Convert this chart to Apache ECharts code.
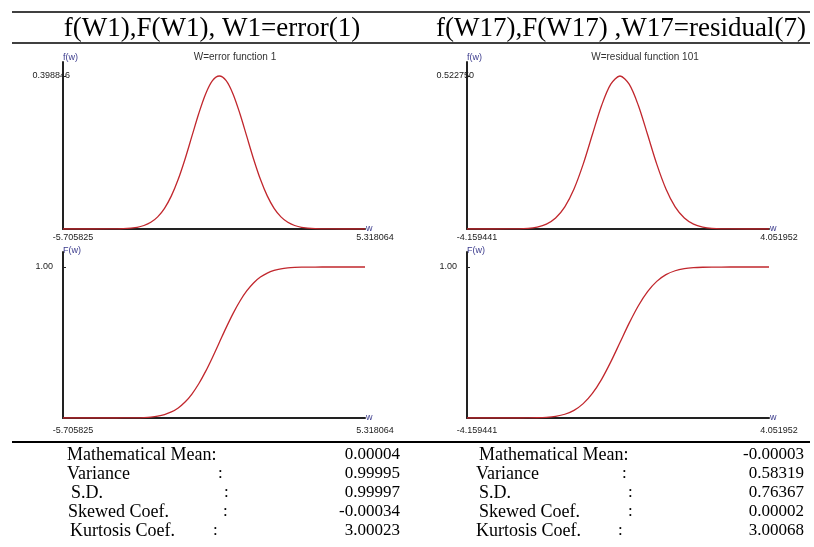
<!DOCTYPE html>
<html>
<head>
<meta charset="utf-8">
<title>f(W1), F(W1) / f(W17), F(W17)</title>
<script src="https://cdn.jsdelivr.net/npm/echarts@6/dist/echarts.min.js"></script>
<style>
html,body{margin:0;padding:0;background:#fff;}
#main{width:814px;height:547px;}
</style>
</head>
<body>
<div id="main"></div>
<script>
// W1 = error(1)  : density f(w) and distribution F(w)
var w1X   = [-5.705825, -4, -3.5, -3, -2.75, -2.5, -2.25, -2, -1.75, -1.5, -1.25, -1, -0.75, -0.5, -0.25, 0, 0.25, 0.5, 0.75, 1, 1.25, 1.5, 1.75, 2, 2.25, 2.5, 2.75, 3, 3.5, 4, 5.318064];
var w1Pdf = [0, 0.0001, 0.0009, 0.0044, 0.0091, 0.0175, 0.0317, 0.0540, 0.0863, 0.1295, 0.1826, 0.2420, 0.3011, 0.3521, 0.3867, 0.3988, 0.3867, 0.3521, 0.3011, 0.2420, 0.1826, 0.1295, 0.0863, 0.0540, 0.0317, 0.0175, 0.0091, 0.0044, 0.0009, 0.0001, 0];
var w1Cdf = [0, 0, 0.0002, 0.0013, 0.0030, 0.0062, 0.0122, 0.0228, 0.0401, 0.0668, 0.1056, 0.1587, 0.2266, 0.3085, 0.4013, 0.5, 0.5987, 0.6915, 0.7734, 0.8413, 0.8944, 0.9332, 0.9599, 0.9772, 0.9878, 0.9938, 0.9970, 0.9987, 0.9998, 1, 1];

// W17 = residual(7)
var w17X   = [-4.159441, -3, -2.5, -2.25, -2, -1.75, -1.5, -1.25, -1, -0.75, -0.5, -0.25, 0, 0.25, 0.5, 0.75, 1, 1.25, 1.5, 1.75, 2, 2.25, 2.5, 3, 4.051952];
var w17Pdf = [0, 0.0002, 0.0024, 0.0068, 0.0169, 0.0378, 0.0758, 0.1368, 0.2216, 0.3228, 0.4220, 0.4947, 0.5227, 0.4947, 0.4220, 0.3228, 0.2216, 0.1368, 0.0758, 0.0378, 0.0169, 0.0068, 0.0024, 0.0002, 0];
var w17Cdf = [0, 0, 0.0005, 0.0016, 0.0044, 0.0110, 0.0248, 0.0508, 0.0952, 0.1630, 0.2563, 0.3717, 0.5, 0.6283, 0.7437, 0.8370, 0.9048, 0.9492, 0.9752, 0.9890, 0.9956, 0.9984, 0.9995, 1, 1];

// tick labels
var w1XTicks  = [-5.705825, 5.318064];
var w17XTicks = [-4.159441, 4.051952];
var w1PdfTick  = [0.398846];
var w17PdfTick = [0.52275];
var cdfTick    = [1];

// statistics table
var statNames = ['Mathematical Mean:', 'Variance', 'S.D.', 'Skewed Coef.', 'Kurtosis Coef.'];
var w1Stats   = ['0.00004', '0.99995', '0.99997', '-0.00034', '3.00023'];
var w17Stats  = ['-0.00003', '0.58319', '0.76367', '0.00002', '3.00068'];

var titles = ['f(W1),F(W1), W1=error(1)', 'f(W17),F(W17) ,W17=residual(7)'];
var subTitles = ['W=error function 1', 'W=residual function 101'];

var chart = echarts.init(document.getElementById('main'));

var axisName = '#3a3a8c';
var red = '#c1272d';
var smallFont = 'Liberation Sans';

function zip(xs, ys) {
    var out = [];
    for (var i = 0; i < xs.length; i++) out.push([xs[i], ys[i]]);
    return out;
}

function makeX(idx, ticks, margin) {
    return {
        type: 'value', gridIndex: idx,
        min: ticks[0], max: ticks[1],
        name: 'w', nameLocation: 'end', nameGap: 1, nameMoveOverlap: false,
        nameTextStyle: {color: axisName, fontSize: 9, fontFamily: smallFont, padding: [0, 0, 10, 0]},
        axisLine: {onZero: false, lineStyle: {color: '#222', width: 2}},
        axisTick: {show: false},
        splitLine: {show: false},
        axisLabel: {
            customValues: ticks, margin: margin,
            color: '#222', fontSize: 9, fontFamily: smallFont,
            padding: [0, 0, 0, 20],
            formatter: function (v) { return v.toFixed(6); }
        }
    };
}

function makeY(idx, max, ticks, digits, margin, name, gap) {
    return {
        type: 'value', gridIndex: idx,
        min: 0, max: max,
        name: name, nameLocation: 'end', nameGap: gap, nameMoveOverlap: false,
        nameTextStyle: {color: axisName, fontSize: 9, fontFamily: smallFont, align: 'left'},
        axisLine: {show: true, onZero: false, lineStyle: {color: '#222', width: 2}},
        axisTick: {show: true, customValues: ticks, length: 3, inside: true, lineStyle: {color: '#222'}},
        splitLine: {show: false},
        axisLabel: {
            customValues: ticks, margin: margin,
            color: '#222', fontSize: 9, fontFamily: smallFont,
            formatter: function (v) { return v.toFixed(digits); }
        }
    };
}

function curve(idx, data) {
    return {
        type: 'line', xAxisIndex: idx, yAxisIndex: idx,
        data: data, showSymbol: false, smooth: 0.3,
        lineStyle: {color: red, width: 1.3},
        silent: true, animation: false
    };
}

var graphics = [
    {type: 'line', shape: {x1: 12, y1: 12, x2: 810, y2: 12}, style: {stroke: '#000', lineWidth: 1.5}},
    {type: 'line', shape: {x1: 12, y1: 43, x2: 810, y2: 43}, style: {stroke: '#000', lineWidth: 1.5}},
    {type: 'line', shape: {x1: 12, y1: 442, x2: 810, y2: 442}, style: {stroke: '#000', lineWidth: 2}}
];

var titleX = [212, 621];
var subX = [235, 645];
titles.forEach(function (t, i) {
    graphics.push({type: 'text', x: titleX[i], y: 29,
        style: {text: t, font: '27px "Liberation Serif"', fill: '#000', align: 'center', verticalAlign: 'middle'}});
    graphics.push({type: 'text', x: subX[i], y: 57,
        style: {text: subTitles[i], font: '10px "Liberation Sans"', fill: '#333', align: 'center', verticalAlign: 'middle'}});
});

// table layout
var rowY = [455, 474, 493, 512, 531];
var labelX = [[67, 67, 71, 68, 70], [479, 476, 479, 479, 476]];
var colonX = [[0, 218, 224, 223, 213], [0, 622, 628, 628, 618]];
var valueX = [400, 804];
[w1Stats, w17Stats].forEach(function (vals, c) {
    statNames.forEach(function (n, r) {
        graphics.push({type: 'text', x: labelX[c][r], y: rowY[r],
            style: {text: n, font: '18px "Liberation Serif"', fill: '#000', align: 'left', verticalAlign: 'middle'}});
        if (r > 0) {
            graphics.push({type: 'text', x: colonX[c][r], y: rowY[r],
                style: {text: ':', font: '17px "Liberation Serif"', fill: '#000', align: 'left', verticalAlign: 'middle'}});
        }
        graphics.push({type: 'text', x: valueX[c], y: rowY[r],
            style: {text: vals[r], font: '17px "Liberation Serif"', fill: '#000', align: 'right', verticalAlign: 'middle'}});
    });
});

var option = {
    animation: false,
    grid: [
        {left: 63, top: 62, width: 302, height: 167},
        {left: 63, top: 252, width: 302, height: 166},
        {left: 467, top: 62, width: 302, height: 167},
        {left: 467, top: 252, width: 302, height: 166}
    ],
    xAxis: [
        makeX(0, w1XTicks, 4),
        makeX(1, w1XTicks, 8),
        makeX(2, w17XTicks, 4),
        makeX(3, w17XTicks, 8)
    ],
    yAxis: [
        makeY(0, 0.4353, w1PdfTick, 6, -7, 'f(w)', 0),
        makeY(1, 1.0994, cdfTick, 2, 10, 'F(w)', -3),
        makeY(2, 0.5706, w17PdfTick, 6, -7, 'f(w)', 0),
        makeY(3, 1.0994, cdfTick, 2, 10, 'F(w)', -3)
    ],
    series: [
        curve(0, zip(w1X, w1Pdf)),
        curve(1, zip(w1X, w1Cdf)),
        curve(2, zip(w17X, w17Pdf)),
        curve(3, zip(w17X, w17Cdf))
    ],
    graphic: graphics
};

chart.setOption(option);
</script>
</body>
</html>
